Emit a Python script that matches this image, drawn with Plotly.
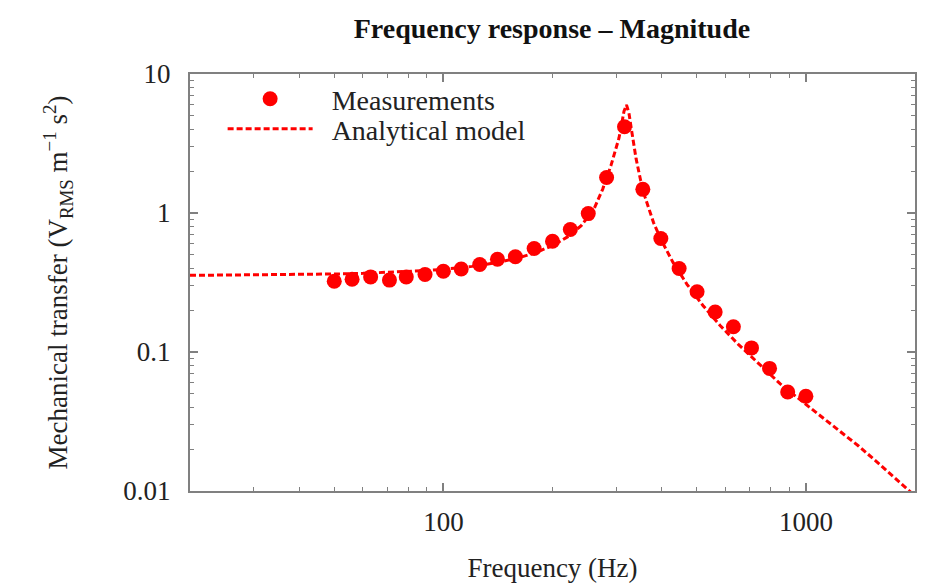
import plotly.graph_objects as go

meas_freq = [50, 56, 63, 71, 79, 89, 100, 112, 126, 141, 158, 178, 200, 224,
             251, 282, 316, 355, 398, 447, 501, 562, 631, 708, 794, 891, 1000]
meas_mag = [0.323, 0.334, 0.347, 0.329, 0.347, 0.361, 0.381, 0.395, 0.426, 0.465,
            0.484, 0.555, 0.627, 0.76, 0.99, 1.80, 4.17, 1.48, 0.655, 0.399,
            0.271, 0.194, 0.152, 0.107, 0.0762, 0.0516, 0.048]

# Analytical model curve
model_freq = [20, 30, 40, 50, 60, 70, 80, 90, 100, 120, 140, 160, 180, 200, 220,
              240, 260, 275, 290, 300, 305, 310, 315, 320, 325, 330, 340, 350,
              360, 380, 400, 430, 470, 520, 580, 650, 750, 850, 1000, 1200, 1400,
              1600, 1800, 2000]
model_mag = [0.356, 0.358, 0.361, 0.364, 0.368, 0.373, 0.379, 0.386, 0.393, 0.413,
             0.439, 0.473, 0.519, 0.583, 0.673, 0.811, 1.06, 1.48, 2.2, 2.9, 3.45,
             4.3, 5.4, 6.0, 5.24, 4.03, 2.47, 1.72, 1.30, 0.853, 0.631, 0.441,
             0.307, 0.216, 0.155, 0.114, 0.080, 0.059, 0.042, 0.029, 0.021, 0.0155,
             0.0118, 0.0092]

y_tick_vals = [0.01, 0.1, 1, 10]
y_tick_text = ["0.01", "0.1", "1", "10"]
x_tick_vals = [100, 1000]
x_tick_text = ["100", "1000"]

RED = "#ff0000"
AXIS = "#808080"
FONT = "Liberation Serif"
FS = 27
NB = "\u00a0\u00a0"

fig = go.Figure()
fig.add_trace(go.Scatter(
    x=meas_freq, y=meas_mag, mode="markers", name=NB + "Measurements",
    marker=dict(color=RED, size=15, line=dict(width=0)), legend="legend",
))
fig.add_trace(go.Scatter(
    x=model_freq, y=model_mag, mode="lines", name=NB + "Analytical model",
    line=dict(color=RED, width=3, dash="6px,3px"), legend="legend2",
))

axis_common = dict(
    type="log", showgrid=False, zeroline=False, automargin=False,
    showline=True, linecolor=AXIS, linewidth=2, mirror="allticks",
    ticks="inside", ticklen=8, tickwidth=1.5, tickcolor=AXIS,
    tickfont=dict(family=FONT, size=FS, color="#222222"),
    minor=dict(ticks="inside", ticklen=4, tickwidth=1.2, tickcolor=AXIS,
               dtick="D1", showgrid=False),
)

legend_common = dict(xanchor="left", yanchor="top", bgcolor="rgba(0,0,0,0)",
                     itemwidth=85, font=dict(family=FONT, size=28, color="#222222"))

fig.update_layout(
    width=924, height=575,
    margin=dict(l=182, r=17, t=66, b=92),
    paper_bgcolor="white", plot_bgcolor="white",
    font=dict(family=FONT, size=FS, color="#222222"),
    title=dict(text="<b>Frequency response – Magnitude</b>", x=0.5887, xanchor="center",
               y=0.965, yanchor="middle", font=dict(family=FONT, size=28, color="#111111")),
    xaxis=dict(axis_common, range=[1.30103, 3.30103], tickmode="array",
               tickvals=x_tick_vals, ticktext=x_tick_text, ticklabelstandoff=6,
               title=dict(text="Frequency (Hz)", standoff=22,
                          font=dict(family=FONT, size=FS, color="#222222"))),
    yaxis=dict(axis_common, range=[-2, 1], tickmode="array",
               tickvals=y_tick_vals, ticktext=y_tick_text, ticklabelstandoff=12,
               title=dict(text="Mechanical transfer (V<sub>RMS</sub> m<sup>−1</sup> s<sup>2</sup>)",
                          standoff=48,
                          font=dict(family=FONT, size=FS, color="#222222"))),
    legend=dict(legend_common, x=0.045, y=1.0),
    legend2=dict(legend_common, x=0.045, y=0.928),
    showlegend=True,
)

fig.write_html("out.html")
